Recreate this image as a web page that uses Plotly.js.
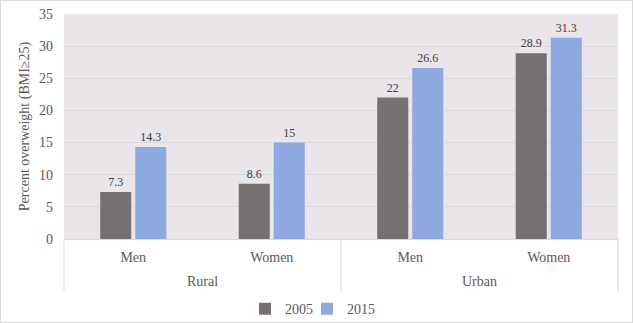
<!DOCTYPE html>
<html>
<head>
<meta charset="utf-8">
<script src="https://cdn.plot.ly/plotly-3.0.1.min.js"></script>
<style>
html,body{margin:0;padding:0;background:#fff;}
#chart{width:633px;height:323px;border:1px solid #D9D9D9;box-sizing:border-box;}
</style>
</head>
<body>
<div id="chart"></div>
<script>
const areas = ["Rural", "Rural", "Urban", "Urban"];
const sexes = ["Men", "Women", "Men", "Women"];
const values2005 = [7.3, 8.6, 22, 28.9];
const values2015 = [14.3, 15, 26.6, 31.3];
const seriesNames = ["2005", "2015"];
const yTickVals = [0, 5, 10, 15, 20, 25, 30, 35];

const FONT = "'Liberation Serif', 'Times New Roman', serif";
const GRID = "#D9D9D9";
const TXT = "#595959";

// category positions on the x axis
const xIndex = sexes.map((_, i) => i);
const xRange = [-0.5, sexes.length - 0.5];
const toPaper = v => (v - xRange[0]) / (xRange[1] - xRange[0]);

const traces = [
  {
    type: "bar", name: seriesNames[0], x: xIndex, y: values2005,
    marker: {color: "#767171"}, legend: "legend",
    text: values2005.map(String), textposition: "outside", cliponaxis: false,
    textfont: {family: FONT, size: 12, color: "#404040"}
  },
  {
    type: "bar", name: seriesNames[1], x: xIndex, y: values2015,
    marker: {color: "#8EA9DF"}, legend: "legend2",
    text: values2015.map(String), textposition: "outside", cliponaxis: false,
    textfont: {family: FONT, size: 12, color: "#404040"}
  }
];

// group (area) labels and dividers, derived from the category arrays
const groups = [...new Set(areas)];
const annotations = [];
const boundaries = new Set();
groups.forEach(g => {
  const idx = xIndex.filter(i => areas[i] === g);
  const lo = Math.min(...idx), hi = Math.max(...idx);
  annotations.push({
    text: g, xref: "x", yref: "paper", x: (lo + hi) / 2, y: -0.191,
    xanchor: "center", yanchor: "middle", showarrow: false,
    font: {family: FONT, size: 14, color: TXT}
  });
  boundaries.add(lo - 0.5);
  boundaries.add(hi + 0.5);
});
const shapes = [...boundaries].map(b => ({
  type: "line", xref: "paper", yref: "paper",
  x0: toPaper(b), x1: toPaper(b), y0: 0, y1: -0.231,
  line: {color: GRID, width: 1}
}));

const legendBase = {
  orientation: "h", xref: "container", yref: "container",
  xanchor: "left", y: 0.04, yanchor: "middle",
  bgcolor: "rgba(0,0,0,0)",
  font: {family: FONT, size: 14, color: TXT}, itemwidth: 30
};

const layout = {
  width: 631, height: 321,
  margin: {l: 63, r: 14, t: 13, b: 83, pad: 0},
  paper_bgcolor: "#FFFFFF",
  plot_bgcolor: "#E9E5E9",
  font: {family: FONT, size: 14, color: TXT},
  barmode: "group",
  bargap: 0.494,
  bargroupgap: 0.114,
  showlegend: true,
  legend: Object.assign({}, legendBase, {x: 244 / 631}),
  legend2: Object.assign({}, legendBase, {x: 306 / 631}),
  annotations: annotations,
  shapes: shapes,
  xaxis: {
    type: "linear", automargin: false, range: xRange,
    tickvals: xIndex, ticktext: sexes,
    showline: true, linecolor: GRID, linewidth: 1,
    tickfont: {family: FONT, size: 14, color: TXT},
    ticks: "", ticklabelstandoff: 5, showgrid: false, zeroline: false
  },
  yaxis: {
    automargin: false,
    range: [0, 35], tickvals: yTickVals, ticktext: yTickVals.map(String),
    showgrid: true, gridcolor: GRID, gridwidth: 1,
    zeroline: false, showline: false, ticks: "",
    ticklabelstandoff: 10,
    tickfont: {family: FONT, size: 14, color: TXT},
    title: {text: "Percent overweight (BMI≥25)", font: {family: FONT, size: 14, color: TXT}, standoff: 6}
  }
};

Plotly.newPlot("chart", traces, layout, {displayModeBar: false, staticPlot: true});
</script>
</body>
</html>
